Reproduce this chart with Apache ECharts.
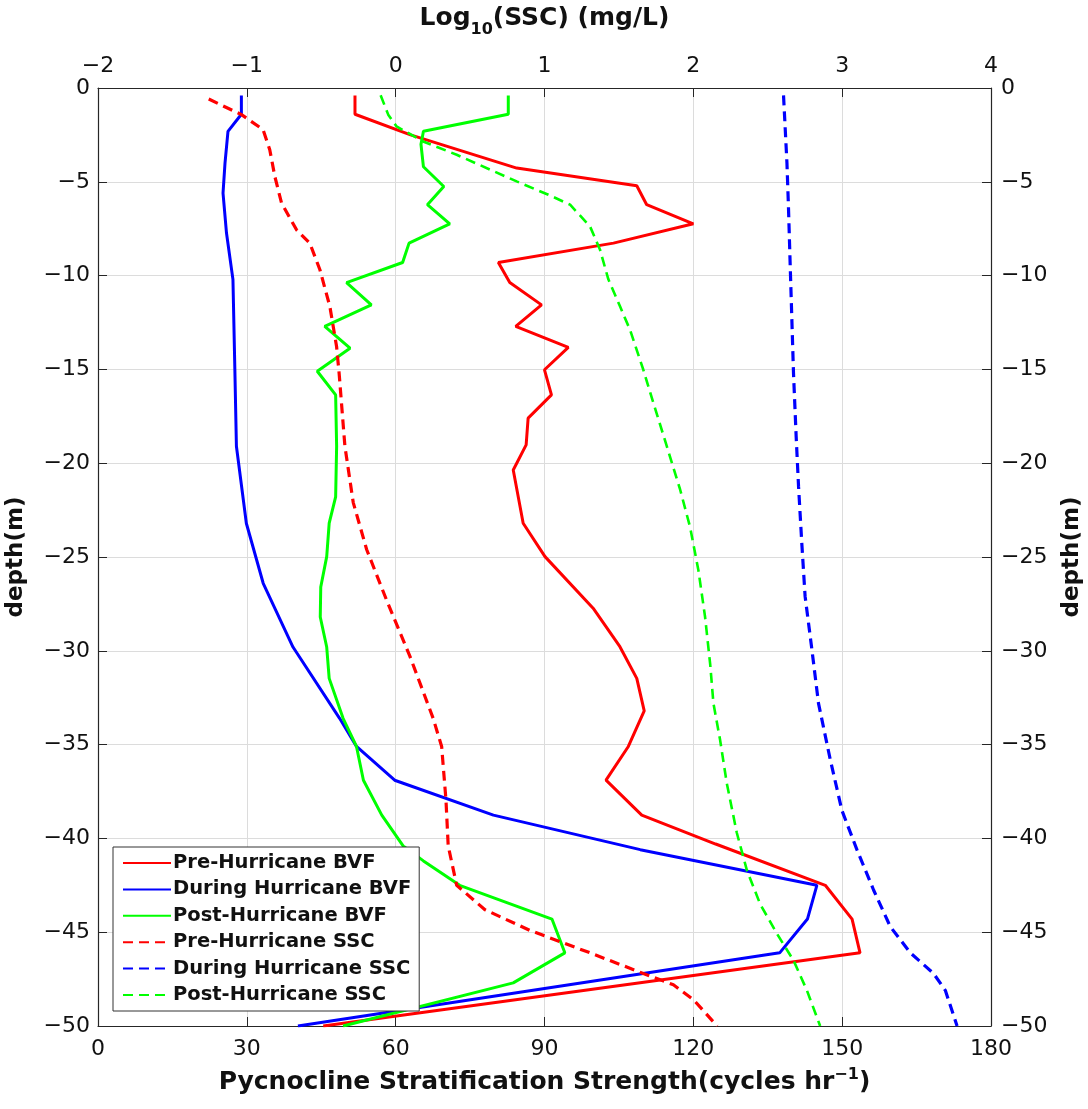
<!DOCTYPE html>
<html>
<head>
<meta charset="utf-8">
<script src="https://cdn.jsdelivr.net/npm/echarts@6/dist/echarts.min.js"></script>
<style>
html,body{margin:0;padding:0;background:#fff;}
#chart{width:1088px;height:1109px;}
</style>
</head>
<body>
<div id="chart"></div>
<script>
// ---- Data (depth in m, BVF in cycles/hr, SSC as log10 mg/L) ----
const seriesNames = ['Pre-Hurricane BVF','During Hurricane BVF','Post-Hurricane BVF','Pre-Hurricane SSC','During Hurricane SSC','Post-Hurricane SSC'];

const preBVF_depth = [-0.4,-1.4,-2.5,-4.27,-5.21,-6.22,-7.24,-8.27,-9.3,-10.37,-11.56,-12.71,-13.83,-15.02,-16.36,-17.6,-19.02,-20.36,-23.2,-24.98,-27.73,-29.78,-31.47,-33.2,-35.1,-36.89,-38.76,-40.3,-42.5,-44.3,-46.1,-50];
const preBVF_val   = [51.8,51.8,63,84.4,108.6,110.6,120.0,103.9,80.7,83.0,89.4,84.2,94.8,90.0,91.4,86.7,86.3,83.7,85.7,90.1,99.8,105.2,108.6,110.1,106.9,102.4,109.6,124.5,146.6,152.0,153.6,45.4];

const duringBVF_depth = [-0.4,-1.4,-2.31,-4.0,-5.6,-7.73,-10.2,-15.2,-19.1,-23.2,-26.4,-29.8,-33.6,-35.1,-36.9,-38.76,-40.6,-42.5,-44.3,-46.1,-50];
const duringBVF_val   = [28.9,28.9,26.2,25.6,25.2,25.9,27.2,27.6,27.9,29.9,33.3,39.3,48.7,52.1,59.8,79.7,109.3,144.9,143.0,137.4,40.3];

const postBVF_depth = [-0.4,-1.4,-2.31,-3.0,-4.2,-5.25,-6.22,-7.24,-8.27,-9.3,-10.37,-11.56,-12.71,-13.87,-15.1,-16.36,-19.1,-21.8,-23.2,-24.98,-26.6,-28.2,-29.8,-31.47,-33.6,-35.1,-36.9,-38.76,-40.4,-41.2,-42.5,-44.3,-46.1,-47.7,-50];
const postBVF_val   = [82.7,82.7,65.6,65.1,65.6,69.7,66.4,70.9,62.7,61.4,50.1,55.1,45.7,50.8,44.2,47.9,48.1,47.9,46.6,46.1,44.9,44.8,46.1,46.6,49.4,52.1,53.5,57.2,61.5,65.6,72.9,91.5,94.1,83.7,49.4];

const preSSC_depth = [-0.59,-1.42,-2.22,-3.29,-4.71,-6.13,-7.56,-8.27,-9.69,-11.65,-13.78,-15.2,-19.1,-22.1,-24.6,-27.3,-30.3,-33.6,-35.1,-37.96,-40.4,-42.5,-43.8,-44.9,-46.1,-47.2,-47.8,-48.6,-50];
const preSSC_val   = [-1.256,-1.036,-0.891,-0.846,-0.812,-0.767,-0.666,-0.577,-0.509,-0.442,-0.397,-0.380,-0.341,-0.285,-0.195,-0.061,0.096,0.252,0.309,0.338,0.353,0.410,0.600,0.90,1.306,1.664,1.866,2.001,2.16];

const duringSSC_depth = [-0.39,-4.0,-6.3,-9.5,-15.2,-18.6,-21.25,-24.3,-27.1,-29.96,-32.8,-35.8,-38.5,-40.6,-42.75,-44.7,-46.1,-47.2,-48.1,-50];
const duringSSC_val   = [2.606,2.629,2.639,2.651,2.673,2.691,2.707,2.729,2.751,2.797,2.841,2.920,2.998,3.099,3.211,3.323,3.458,3.614,3.693,3.772];

const postSSC_depth = [-0.39,-1.42,-2.05,-2.85,-3.56,-4.98,-5.69,-6.22,-7.38,-8.62,-10.2,-11.65,-12.9,-15.02,-16.8,-19.1,-21.4,-23.4,-25.7,-28.2,-30.7,-32.8,-34.76,-37.07,-39.7,-41.7,-43.5,-45.07,-46.5,-48.1,-50];
const postSSC_val   = [-0.101,-0.050,0.006,0.185,0.410,0.813,1.026,1.172,1.306,1.373,1.429,1.508,1.575,1.664,1.732,1.822,1.911,1.978,2.034,2.079,2.113,2.135,2.180,2.225,2.292,2.360,2.449,2.561,2.673,2.763,2.852];

// Axis tick settings
const bvfAxis = {min: 0, max: 180, interval: 30};
const sscAxis = {min: -2, max: 4, interval: 1};
const depthAxis = {min: -50, max: 0, interval: 5};

// ---- Build ----
function pairs(vals, depths){ return vals.map((v,i)=>[v, depths[i]]); }
const minus = v => String(v).replace('-', '\u2212');

const FONT = 'DejaVu Sans';
const TXT = '#111';
const AX = '#262626';
const tickLabel = {fontFamily: FONT, fontSize: 22, color: TXT, formatter: minus};

const colors = {red:'#ff0000', blue:'#0000ff', green:'#00ff00'};
function line(name, data, color, xi, dashed, width){
  return {
    name, type:'line', xAxisIndex: xi, yAxisIndex: 0, data,
    symbol:'none', showSymbol:false, smooth:false, animation:false,
    lineStyle:{color, width, type: dashed ? [10,6] : 'solid'},
    itemStyle:{color}, clip:true
  };
}

const chart = echarts.init(document.getElementById('chart'), null, {renderer:'canvas'});
const option = {
  animation:false,
  backgroundColor:'#fff',
  grid:{left:98, right:97, top:88, bottom:83, containLabel:false, outerBoundsMode:'none'},
  xAxis:[
    {type:'value', position:'bottom', min:bvfAxis.min, max:bvfAxis.max, interval:bvfAxis.interval,
     axisLine:{show:true, onZero:false, lineStyle:{color:AX, width:1.2}},
     axisTick:{show:true, inside:true, length:9, lineStyle:{color:AX}},
     axisLabel:Object.assign({margin:12}, tickLabel),
     splitLine:{show:true, lineStyle:{color:'#dcdcdc', width:1}},
     name:'{a|Pycnocline Stratification Strength(cycles hr}{s|\u22121}{a|)}',
     nameLocation:'middle', nameGap:41,
     nameTextStyle:{rich:{
       a:{fontFamily:FONT, fontWeight:'bold', fontSize:25, color:TXT, verticalAlign:'bottom', lineHeight:28},
       s:{fontFamily:FONT, fontWeight:'bold', fontSize:16, color:TXT, verticalAlign:'top', lineHeight:12}
     }}
    },
    {type:'value', position:'top', min:sscAxis.min, max:sscAxis.max, interval:sscAxis.interval,
     axisLine:{show:true, onZero:false, lineStyle:{color:AX, width:1.2}},
     axisTick:{show:true, inside:true, length:9, lineStyle:{color:AX}},
     axisLabel:Object.assign({margin:11}, tickLabel),
     splitLine:{show:false},
     name:'{a|Log}{s|10}{a|(SSC) (mg/L)}',
     nameLocation:'middle', nameGap:50,
     nameTextStyle:{rich:{
       a:{fontFamily:FONT, fontWeight:'bold', fontSize:25, color:TXT, verticalAlign:'top', lineHeight:26},
       s:{fontFamily:FONT, fontWeight:'bold', fontSize:16, color:TXT, verticalAlign:'bottom', lineHeight:32}
     }}
    }
  ],
  yAxis:[
    {type:'value', position:'left', min:depthAxis.min, max:depthAxis.max, interval:depthAxis.interval,
     axisLine:{show:true, onZero:false, lineStyle:{color:AX, width:1.2}},
     axisTick:{show:true, inside:true, length:9, lineStyle:{color:AX}},
     axisLabel:Object.assign({margin:8}, tickLabel),
     splitLine:{show:true, lineStyle:{color:'#dcdcdc', width:1}},
     name:'depth(m)', nameLocation:'middle', nameRotate:90, nameGap:70,
     nameTextStyle:{fontFamily:FONT, fontWeight:'bold', fontSize:23, color:TXT}
    },
    {type:'value', position:'right', min:depthAxis.min, max:depthAxis.max, interval:depthAxis.interval,
     axisLine:{show:true, onZero:false, lineStyle:{color:AX, width:1.2}},
     axisTick:{show:true, inside:true, length:9, lineStyle:{color:AX}},
     axisLabel:Object.assign({margin:10}, tickLabel),
     splitLine:{show:false},
     name:'depth(m)', nameLocation:'middle', nameRotate:90, nameGap:70,
     nameTextStyle:{fontFamily:FONT, fontWeight:'bold', fontSize:23, color:TXT}
    }
  ],
  legend:{
    show:true, orient:'vertical', left:113, top:847, selectedMode:false,
    data:seriesNames,
    backgroundColor:'#fff', borderColor:'#333', borderWidth:1, borderRadius:0,
    padding:[5,8,5,9], itemWidth:48, itemHeight:14, itemGap:4.4,
    itemStyle:{opacity:0, borderWidth:0},
    textStyle:{fontFamily:FONT, fontWeight:'bold', fontSize:19.5, color:TXT, lineHeight:22, padding:[0,0,0,-3]}
  },
  series:[
    line(seriesNames[0], pairs(preBVF_val, preBVF_depth), colors.red, 0, false, 3),
    line(seriesNames[1], pairs(duringBVF_val, duringBVF_depth), colors.blue, 0, false, 3),
    line(seriesNames[2], pairs(postBVF_val, postBVF_depth), colors.green, 0, false, 3),
    line(seriesNames[3], pairs(preSSC_val, preSSC_depth), colors.red, 1, true, 3.2),
    line(seriesNames[4], pairs(duringSSC_val, duringSSC_depth), colors.blue, 1, true, 3.2),
    line(seriesNames[5], pairs(postSSC_val, postSSC_depth), colors.green, 1, true, 2.6)
  ]
};
chart.setOption(option);
</script>
</body>
</html>
